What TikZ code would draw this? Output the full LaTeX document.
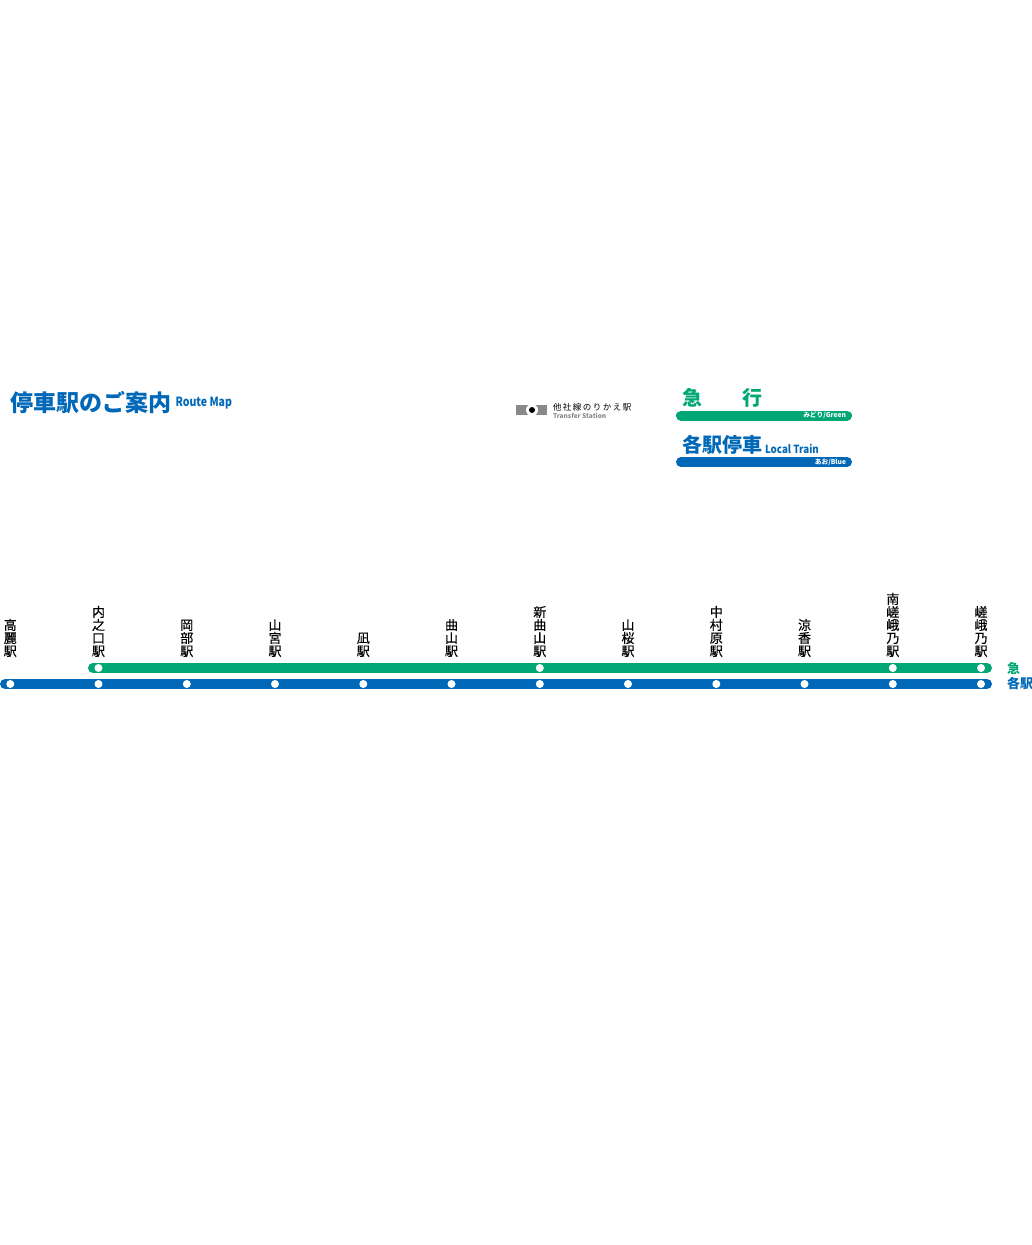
\documentclass[tikz,border=0pt]{standalone}
\usepackage{fontspec}
\setmainfont{Noto Sans CJK JP}
\newfontfamily\medfont[FakeBold=0.3]{Noto Sans CJK JP}

\definecolor{kyuko}{RGB}{0,167,117}
\definecolor{kakueki}{RGB}{0,104,183}
\definecolor{tagray}{RGB}{137,137,137}

\tikzset{every picture/.style={line width=0.75pt}}
\tikzset{
  station/.style={anchor=south,inner sep=0pt,align=center,font=\fontsize{9.75}{9.75}\selectfont\medfont},
  stopdot/.style={circle,fill=white,inner sep=0pt,minimum size=6pt},
  routeline/.style={line width=7.5pt,line cap=round},
  legendbar/.style={line width=7.5pt,line cap=round},
  barlabel/.style={anchor=east,inner sep=0pt,text=white,font=\fontsize{5}{5}\selectfont\bfseries},
  legendname/.style={anchor=west,inner sep=0pt,font=\fontsize{15}{15}\selectfont\bfseries},
  endlabel/.style={anchor=west,inner sep=0pt,font=\fontsize{9.75}{9.75}\selectfont\bfseries}
}

\begin{document}
\begin{tikzpicture}[x=0.75pt,y=0.75pt,yscale=-1,xscale=1]
\useasboundingbox (0,0) rectangle (1031,1245);

% Route ends
\coordinate (greenL) at (93,668);
\coordinate (greenR) at (987,668);
\coordinate (blueL) at (5,684);
\coordinate (blueR) at (987,684);
\coordinate (barGL) at (681,415.5);
\coordinate (barGR) at (847,415.5);
\coordinate (barBL) at (681,462);
\coordinate (barBR) at (847,462);

% Route Lines
\draw [kyuko,routeline] (greenL) -- (greenR);
\draw [kakueki,routeline] (blueL) -- (blueR);

% Legend Bars
\draw [kyuko,legendbar] (barGL) -- (barGR);
\draw [kakueki,legendbar] (barBL) -- (barBR);

% Title
\node (title) [anchor=west,inner sep=0pt,text=kakueki,font=\fontsize{17.25}{17.25}\selectfont\bfseries] at (10,402.5) {停車駅のご案内};
\node (titleEn) [anchor=west,inner sep=0pt,text=kakueki,font=\fontsize{9.5}{9.5}\selectfont\bfseries\addfontfeatures{FakeStretch=0.83}] at (175,403) {Route Map};

% Transfer Mark
\node (markBox) [fill=tagray,minimum width=23.25pt,minimum height=7.5pt,inner sep=0pt] at (531.5,410) {};
\node (markRing) [circle,fill=white,minimum size=9pt,inner sep=0pt] at (532,410) {};
\node (markDot) [circle,fill=black,minimum size=4.5pt,inner sep=0pt] at (532,410) {};
\node (markText) [anchor=west,inner sep=0pt,font=\fontsize{6.4}{6.4}\selectfont\addfontfeatures{LetterSpace=17}] at (552.5,407.5) {他社線のりかえ駅};
\node (markEn) [anchor=west,inner sep=0pt,text=tagray,font=\fontsize{4.9}{4.9}\selectfont\bfseries] at (552.5,415.5) {Transfer Station};

% Legend Text
\node (expJa) [legendname,text=kyuko] at (682,398) {急};
\node (expJb) [legendname,text=kyuko] at (742,398) {行};
\node (locJa) [legendname,text=kakueki] at (682,445) {各駅停車};
\node (locEn) [anchor=west,inner sep=0pt,text=kakueki,font=\fontsize{8.4}{8.4}\selectfont\bfseries\addfontfeatures{FakeStretch=0.87}] at (764.5,448.5) {Local Train};
\node (expBar) [barlabel] at (846.5,415.5) {みどり/Green};
\node (locBar) [barlabel] at (846.5,462.5) {あお/Blue};

% Station Names
\node (koma) [station] at (10.3,657.5) {高\\麗\\駅};
\node (uchi) [station] at (98.5,657.5) {内\\之\\口\\駅};
\node (oka) [station] at (186.8,657.5) {岡\\部\\駅};
\node (yama) [station] at (275,657.5) {山\\宮\\駅};
\node (nagi) [station] at (363.3,657.5) {凪\\駅};
\node (magari) [station] at (451.5,657.5) {曲\\山\\駅};
\node (shin) [station] at (539.8,657.5) {新\\曲\\山\\駅};
\node (sakura) [station] at (628,657.5) {山\\桜\\駅};
\node (naka) [station] at (716.3,657.5) {中\\村\\原\\駅};
\node (ryoka) [station] at (804.5,657.5) {涼\\香\\駅};
\node (minami) [station] at (892.8,657.5) {南\\嵯\\峨\\乃\\駅};
\node (saga) [station] at (981,657.5) {嵯\\峨\\乃\\駅};

% Express Stops
\node (gUchi) [stopdot] at (98.5,668) {};
\node (gShin) [stopdot] at (539.8,668) {};
\node (gMinami) [stopdot] at (892.8,668) {};
\node (gSaga) [stopdot] at (981,668) {};

% Local Stops
\node (bKoma) [stopdot] at (10.3,684) {};
\node (bUchi) [stopdot] at (98.5,684) {};
\node (bOka) [stopdot] at (186.8,684) {};
\node (bYama) [stopdot] at (275,684) {};
\node (bNagi) [stopdot] at (363.3,684) {};
\node (bMagari) [stopdot] at (451.5,684) {};
\node (bShin) [stopdot] at (539.8,684) {};
\node (bSakura) [stopdot] at (628,684) {};
\node (bNaka) [stopdot] at (716.3,684) {};
\node (bRyoka) [stopdot] at (804.5,684) {};
\node (bMinami) [stopdot] at (892.8,684) {};
\node (bSaga) [stopdot] at (981,684) {};

% Line Ends
\node (endG) [endlabel,text=kyuko] at (1006.5,668) {急};
\node (endB) [endlabel,text=kakueki] at (1006.5,683.5) {各駅};

\end{tikzpicture}
\end{document}
